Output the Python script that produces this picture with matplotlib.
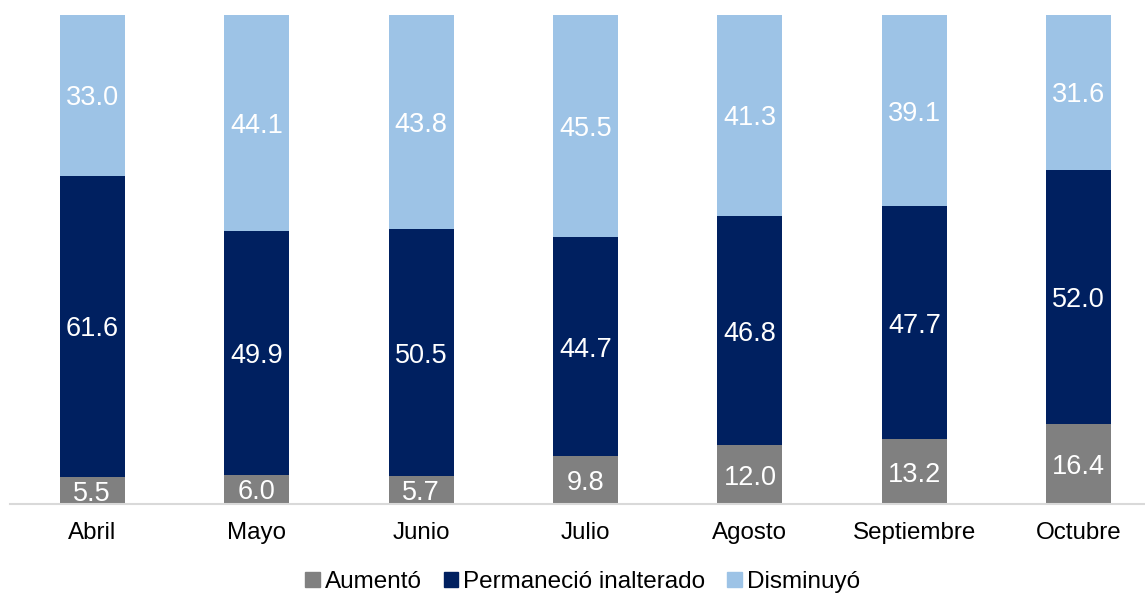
import numpy as np
import matplotlib
matplotlib.use('Agg')
import matplotlib.pyplot as plt
import matplotlib.patches as mpatches

plt.rcParams['font.family'] = ['Liberation Sans', 'DejaVu Sans']

# ── DATA ─────────────────────────────────────────────────────────────
months = ['Abril', 'Mayo', 'Junio', 'Julio', 'Agosto', 'Septiembre', 'Octubre']
aumento = [5.5, 6.0, 5.7, 9.8, 12.0, 13.2, 16.4]
permanecio = [61.6, 49.9, 50.5, 44.7, 46.8, 47.7, 52.0]
disminuyo = [33.0, 44.1, 43.8, 45.5, 41.3, 39.1, 31.6]
series_names = ['Aumentó', 'Permaneció inalterado', 'Disminuyó']

COLORS = ['#808080', '#002060', '#9DC3E6']

fig = plt.figure(figsize=(11.45, 5.95), dpi=100, facecolor='white')
# axes spans slightly past the right edge, like the original
ax = fig.add_axes([10 / 1145, 1 - 504 / 595, 1151 / 1145, 489 / 595])

x = np.arange(len(months))
w = 0.395
bottom = np.zeros(len(months))
for vals, col in zip([aumento, permanecio, disminuyo], COLORS):
    vals = np.array(vals)
    ax.bar(x, vals, w, bottom=bottom, color=col, zorder=2)
    for xi, b, v in zip(x, bottom, vals):
        ax.text(xi, b + v / 2, f'{v:.1f}', ha='center', va='center_baseline',
                color='white', fontsize=19.5, zorder=3)
    bottom += vals

ax.set_xlim(-0.5, len(months) - 0.5)
ax.set_ylim(0, 100)
ax.set_yticks([])
ax.set_xticks(x)
ax.set_xticklabels(months, fontsize=17.4)
ax.tick_params(axis='x', length=0, pad=13)
for s in ['top', 'right', 'left']:
    ax.spines[s].set_visible(False)
ax.spines['bottom'].set_color('#D9D9D9')
ax.spines['bottom'].set_linewidth(1.5)

# Legend along the bottom
handles = [mpatches.Patch(color=c, label=n) for c, n in zip(COLORS, series_names)]
fig.legend(handles=handles, loc='center', bbox_to_anchor=(582.5 / 1145, 1 - 582 / 595),
           ncol=3, frameon=False, fontsize=17.5, handlelength=0.6,
           handleheight=0.6, handletextpad=0.2, columnspacing=0.9,
           borderpad=0, borderaxespad=0)

fig.savefig('out.png', dpi=100, facecolor='white')
